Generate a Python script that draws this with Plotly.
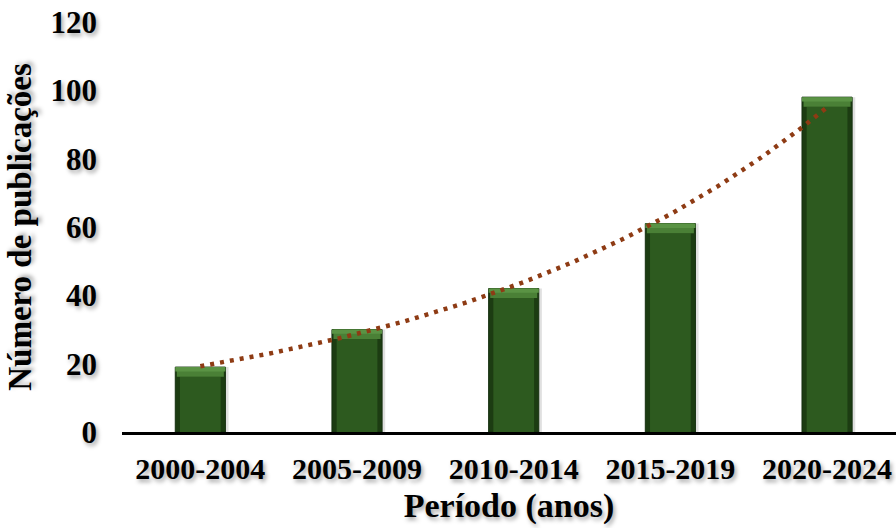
import numpy as np
import plotly.graph_objects as go

categories = ["2000-2004", "2005-2009", "2010-2014", "2015-2019", "2020-2024"]
values = [19, 30, 42, 61, 98]
y_ticks = [0, 20, 40, 60, 80, 100, 120]

xpos = list(range(len(categories)))

# exponential trendline (least squares on log values)
b, a = np.polyfit(np.array(xpos, float), np.log(values), 1)
xt = np.linspace(0, len(categories) - 1, 200)
yt = np.exp(a + b * xt)

FONT = "Liberation Serif"
shadow = "2px 3px 4px rgba(0,0,0,0.35)"
bevel = 2.8

fig = go.Figure()
# soft shadow behind bars
fig.add_trace(go.Bar(x=xpos, y=values, width=0.33, offset=-0.15,
                     marker=dict(color="rgba(0,0,0,0.12)", line=dict(width=0)),
                     hoverinfo="skip"))
# dark outer bar (edges)
fig.add_trace(go.Bar(x=xpos, y=values, width=0.32,
                     marker=dict(color="#1c3c12", line=dict(color="#163010", width=1)),
                     hoverinfo="skip"))
# inner face
fig.add_trace(go.Bar(x=xpos, y=[v - bevel for v in values], width=0.26,
                     marker=dict(color="#2d5a1f", line=dict(width=0))))
# top bevel highlight
fig.add_trace(go.Bar(x=xpos, y=[bevel] * len(values), base=[v - bevel for v in values],
                     width=0.30,
                     marker=dict(color="#4a8036", line=dict(width=0)),
                     hoverinfo="skip"))
fig.add_trace(go.Bar(x=xpos, y=[bevel * 0.45] * len(values), base=[v - bevel * 0.45 for v in values],
                     width=0.32,
                     marker=dict(color="#5a9344", line=dict(width=0)),
                     hoverinfo="skip"))
# trendline
fig.add_trace(go.Scatter(x=xt, y=yt, mode="lines",
                         line=dict(color="#8e3b14", width=4.5, dash="4px,6px"),
                         hoverinfo="skip"))

fig.update_layout(
    width=896, height=528,
    margin=dict(l=122, r=0, t=22, b=96),
    paper_bgcolor="white", plot_bgcolor="white",
    barmode="overlay", showlegend=False,
    font=dict(family=FONT, size=30, color="black", weight="bold", shadow=shadow),
)
fig.update_xaxes(
    range=[-0.5, 4.44], tickmode="array", tickvals=xpos, ticktext=categories,
    showgrid=False, zeroline=False, showline=True, linecolor="black", linewidth=3,
    ticks="", ticklabelstandoff=8,
    tickfont=dict(family=FONT, size=30, weight="bold", shadow=shadow),
    title=dict(text="Período (anos)", standoff=10,
               font=dict(family=FONT, size=34, weight="bold", shadow=shadow)),
)
fig.update_yaxes(
    range=[0, 120], tickmode="array", tickvals=y_ticks,
    showgrid=False, zeroline=False, showline=False, ticks="",
    ticklabelstandoff=24,
    tickfont=dict(family=FONT, size=31, weight="bold", shadow=shadow),
    title=dict(text="Número de publicações", standoff=8,
               font=dict(family=FONT, size=33, weight="bold", shadow=shadow)),
)

fig.write_html("out.html")
